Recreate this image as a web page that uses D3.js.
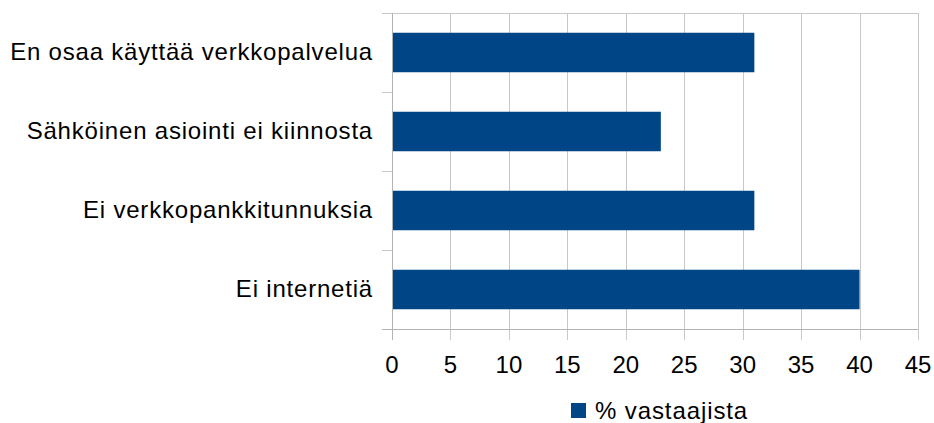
<!DOCTYPE html>
<html>
<head>
<meta charset="utf-8">
<script src="https://cdn.jsdelivr.net/npm/d3@7"></script>
<style>
  body { margin: 0; background: #fff; }
  text { font-family: "Liberation Sans", Arial, sans-serif; fill: #000; }
</style>
</head>
<body>
<script>
var categories = ['En osaa käyttää verkkopalvelua', 'Sähköinen asiointi ei kiinnosta', 'Ei verkkopankkitunnuksia', 'Ei internetiä'];
var values = [31, 23, 31, 40];
var xTicks = [0, 5, 10, 15, 20, 25, 30, 35, 40, 45];
var seriesName = '% vastaajista';

var width = 934, height = 423;
var plotLeft = 392, plotRight = 918, plotTop = 13, plotBottom = 329;

var svg = d3.select('body').append('svg').attr('width', width).attr('height', height);

var x = d3.scaleLinear().domain([0, 45]).range([plotLeft, plotRight]);
var y = d3.scaleBand().domain(categories).range([plotTop, plotBottom]).paddingInner(0.5).paddingOuter(0.25);

// gridlines
svg.append('g').selectAll('line').data(xTicks).enter().append('line')
  .attr('x1', function (d) { return Math.round(x(d)) + 0.5; })
  .attr('x2', function (d) { return Math.round(x(d)) + 0.5; })
  .attr('y1', plotTop).attr('y2', plotBottom + 11)
  .attr('stroke', '#c8c8c8').attr('stroke-width', 1);

// top border line
svg.append('line').attr('x1', plotLeft - 10).attr('x2', plotRight).attr('y1', plotTop + 0.5).attr('y2', plotTop + 0.5)
  .attr('stroke', '#c8c8c8');

// y axis ticks at category boundaries
var step = (plotBottom - plotTop) / categories.length;
var bounds = d3.range(categories.length + 1).map(function (i) { return plotTop + i * step; });
svg.append('g').selectAll('line').data(bounds).enter().append('line')
  .attr('x1', plotLeft - 10).attr('x2', plotLeft)
  .attr('y1', function (d) { return Math.round(d) + 0.5; })
  .attr('y2', function (d) { return Math.round(d) + 0.5; })
  .attr('stroke', '#c8c8c8');

// bars
svg.append('g').selectAll('rect').data(values).enter().append('rect')
  .attr('x', x(0))
  .attr('y', function (d, i) { return y(categories[i]); })
  .attr('width', function (d) { return x(d) - x(0); })
  .attr('height', y.bandwidth())
  .attr('fill', '#004586');

// axis lines
svg.append('line').attr('x1', plotLeft + 0.5).attr('x2', plotLeft + 0.5).attr('y1', plotTop).attr('y2', plotBottom + 11)
  .attr('stroke', '#b3b3b3');
svg.append('line').attr('x1', plotLeft - 10).attr('x2', plotRight).attr('y1', plotBottom + 0.5).attr('y2', plotBottom + 0.5)
  .attr('stroke', '#b3b3b3');

// x tick labels
svg.append('g').selectAll('text').data(xTicks).enter().append('text')
  .attr('x', function (d) { return x(d); })
  .attr('y', 373)
  .attr('text-anchor', 'middle')
  .style('font-size', '24px')
  .text(function (d) { return d; });

// category labels
svg.append('g').selectAll('text').data(categories).enter().append('text')
  .attr('x', 373)
  .attr('y', function (d) { return y(d) + y.bandwidth() / 2 + 7.5; })
  .attr('text-anchor', 'end')
  .style('font-size', '24px')
  .style('letter-spacing', '0.8px')
  .text(function (d) { return d; });

// legend
svg.append('rect').attr('x', 571).attr('y', 403).attr('width', 15).attr('height', 15).attr('fill', '#004586');
svg.append('text').attr('x', 595).attr('y', 419).style('font-size', '24px').style('letter-spacing', '0.9px').text(seriesName);
</script>
</body>
</html>
